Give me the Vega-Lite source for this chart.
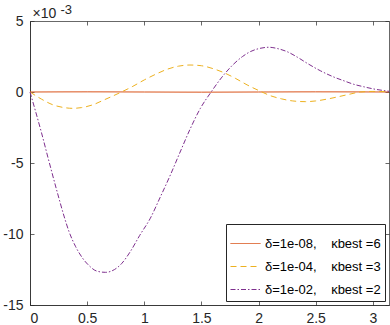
{
  "$schema": "https://vega.github.io/schema/vega-lite/v6.json",
  "width": 359,
  "height": 284,
  "autosize": {"type": "none"},
  "padding": {"left": 30, "top": 21, "right": 1, "bottom": 20},
  "background": "white",
  "config": {
    "view": {"stroke": null},
    "font": "Liberation Sans",
    "axis": {
      "grid": false,
      "domainColor": "#262626",
      "domainWidth": 0.7,
      "tickColor": "#262626",
      "tickWidth": 0.7,
      "tickSize": 4,
      "labelFontSize": 14,
      "labelColor": "#262626",
      "labelFont": "Liberation Sans",
      "titleFont": "Liberation Sans",
      "titleFontWeight": "normal",
      "titleColor": "#262626"
    }
  },
  "data": {
    "values": [
      {"x": 0, "y": 0, "s": "A"},
      {"x": 0.5, "y": 0.00001, "s": "A"},
      {"x": 1.0, "y": 0, "s": "A"},
      {"x": 1.5, "y": -0.00001, "s": "A"},
      {"x": 2.0, "y": 0, "s": "A"},
      {"x": 2.5, "y": 0.00001, "s": "A"},
      {"x": 3.1416, "y": 0, "s": "A"},

      {"x": 0, "y": 0, "s": "B"},
      {"x": 0.1, "y": -0.0005, "s": "B"},
      {"x": 0.2, "y": -0.0009, "s": "B"},
      {"x": 0.3, "y": -0.0011, "s": "B"},
      {"x": 0.37, "y": -0.00115, "s": "B"},
      {"x": 0.45, "y": -0.0011, "s": "B"},
      {"x": 0.55, "y": -0.0009, "s": "B"},
      {"x": 0.65, "y": -0.00055, "s": "B"},
      {"x": 0.8, "y": 0, "s": "B"},
      {"x": 0.9, "y": 0.0004, "s": "B"},
      {"x": 1.0, "y": 0.00085, "s": "B"},
      {"x": 1.1, "y": 0.00125, "s": "B"},
      {"x": 1.2, "y": 0.0016, "s": "B"},
      {"x": 1.3, "y": 0.00182, "s": "B"},
      {"x": 1.4, "y": 0.0019, "s": "B"},
      {"x": 1.5, "y": 0.00185, "s": "B"},
      {"x": 1.6, "y": 0.00165, "s": "B"},
      {"x": 1.7, "y": 0.00135, "s": "B"},
      {"x": 1.8, "y": 0.00095, "s": "B"},
      {"x": 1.9, "y": 0.0005, "s": "B"},
      {"x": 2.03, "y": 0, "s": "B"},
      {"x": 2.1, "y": -0.00025, "s": "B"},
      {"x": 2.2, "y": -0.00048, "s": "B"},
      {"x": 2.3, "y": -0.00063, "s": "B"},
      {"x": 2.41, "y": -0.00068, "s": "B"},
      {"x": 2.5, "y": -0.00063, "s": "B"},
      {"x": 2.6, "y": -0.0005, "s": "B"},
      {"x": 2.7, "y": -0.00033, "s": "B"},
      {"x": 2.8, "y": -0.00015, "s": "B"},
      {"x": 2.89, "y": 0, "s": "B"},
      {"x": 3.0, "y": 0.00004, "s": "B"},
      {"x": 3.1416, "y": 0.00002, "s": "B"},

      {"x": 0, "y": 0, "s": "C"},
      {"x": 0.05, "y": -0.0014, "s": "C"},
      {"x": 0.1, "y": -0.00285, "s": "C"},
      {"x": 0.16, "y": -0.0047, "s": "C"},
      {"x": 0.24, "y": -0.0071, "s": "C"},
      {"x": 0.3, "y": -0.0088, "s": "C"},
      {"x": 0.34, "y": -0.0098, "s": "C"},
      {"x": 0.4, "y": -0.0109, "s": "C"},
      {"x": 0.46, "y": -0.0117, "s": "C"},
      {"x": 0.52, "y": -0.01225, "s": "C"},
      {"x": 0.58, "y": -0.0126, "s": "C"},
      {"x": 0.66, "y": -0.0127, "s": "C"},
      {"x": 0.74, "y": -0.0125, "s": "C"},
      {"x": 0.8, "y": -0.0121, "s": "C"},
      {"x": 0.877, "y": -0.01125, "s": "C"},
      {"x": 0.96, "y": -0.0101, "s": "C"},
      {"x": 1.053, "y": -0.00889, "s": "C"},
      {"x": 1.14, "y": -0.0074, "s": "C"},
      {"x": 1.228, "y": -0.00585, "s": "C"},
      {"x": 1.31, "y": -0.0043, "s": "C"},
      {"x": 1.404, "y": -0.00256, "s": "C"},
      {"x": 1.491, "y": -0.00115, "s": "C"},
      {"x": 1.585, "y": 0, "s": "C"},
      {"x": 1.68, "y": 0.00105, "s": "C"},
      {"x": 1.78, "y": 0.00195, "s": "C"},
      {"x": 1.86, "y": 0.0025, "s": "C"},
      {"x": 1.93, "y": 0.00285, "s": "C"},
      {"x": 2.0, "y": 0.00305, "s": "C"},
      {"x": 2.09, "y": 0.00315, "s": "C"},
      {"x": 2.17, "y": 0.00305, "s": "C"},
      {"x": 2.25, "y": 0.00284, "s": "C"},
      {"x": 2.34, "y": 0.00245, "s": "C"},
      {"x": 2.43, "y": 0.002, "s": "C"},
      {"x": 2.54, "y": 0.0015, "s": "C"},
      {"x": 2.66, "y": 0.00105, "s": "C"},
      {"x": 2.75, "y": 0.00078, "s": "C"},
      {"x": 2.83, "y": 0.00055, "s": "C"},
      {"x": 2.92, "y": 0.00037, "s": "C"},
      {"x": 3.01, "y": 0.00021, "s": "C"},
      {"x": 3.08, "y": 0.00012, "s": "C"},
      {"x": 3.1416, "y": 0.00005, "s": "C"}
    ]
  },
  "layer": [
    {
      "mark": {"type": "line", "strokeWidth": 1, "interpolate": "monotone"},
      "encoding": {
        "x": {
          "field": "x", "type": "quantitative",
          "scale": {"domain": [0, 3.14159], "nice": false, "zero": false},
          "axis": {"orient": "bottom", "values": [0, 0.5, 1, 1.5, 2, 2.5, 3], "labelExpr": "datum.value", "title": null, "ticks": false, "labelPadding": 6}
        },
        "y": {
          "field": "y", "type": "quantitative",
          "scale": {"domain": [-0.015, 0.005], "nice": false},
          "axis": {
            "orient": "left", "values": [-0.015, -0.01, -0.005, 0, 0.005],
            "labelExpr": "round(datum.value*1000)", "ticks": false, "labelPadding": 7,
            "title": "×10", "titleAngle": 0, "titleX": 2, "titleY": -4,
            "titleAlign": "left", "titleBaseline": "alphabetic", "titleFontSize": 14
          }
        },
        "color": {
          "field": "s", "type": "nominal",
          "scale": {"domain": ["A", "B", "C"], "range": ["#D95319", "#EDB120", "#7E2F8E"]},
          "legend": {"title": null, "orient": "bottom-right", "offset": 4, "strokeColor": "#262626", "fillColor": "white", "padding": 4, "symbolType": "stroke", "symbolSize": 900, "symbolStrokeWidth": 1, "labelFontSize": 13, "labelColor": "#000000", "labelOffset": 4, "rowPadding": -3, "labelFont": "Liberation Sans",
            "labelExpr": "datum.label == 'A' ? 'δ=1e-08,\u00a0\u00a0\u00a0\u00a0κbest =6\u00a0' : datum.label == 'B' ? 'δ=1e-04,\u00a0\u00a0\u00a0\u00a0κbest =3\u00a0' : 'δ=1e-02,\u00a0\u00a0\u00a0\u00a0κbest =2\u00a0'"}
        },
        "strokeDash": {
          "field": "s", "type": "nominal",
          "scale": {"domain": ["A", "B", "C"], "range": [[1, 0], [6, 4], [5, 2, 1.5, 2]]},
          "legend": {"title": null, "orient": "bottom-right", "offset": 4, "strokeColor": "#262626", "fillColor": "white", "padding": 4, "symbolType": "stroke", "symbolSize": 900, "symbolStrokeWidth": 1, "labelFontSize": 13, "labelColor": "#000000", "labelOffset": 4, "rowPadding": -3, "labelFont": "Liberation Sans",
            "labelExpr": "datum.label == 'A' ? 'δ=1e-08,\u00a0\u00a0\u00a0\u00a0κbest =6\u00a0' : datum.label == 'B' ? 'δ=1e-04,\u00a0\u00a0\u00a0\u00a0κbest =3\u00a0' : 'δ=1e-02,\u00a0\u00a0\u00a0\u00a0κbest =2\u00a0'"}
        }
      }
    },
    {
      "mark": {"type": "line", "opacity": 0},
      "encoding": {
        "x": {
          "field": "x", "type": "quantitative",
          "axis": {"orient": "top", "offset": -284, "values": [0, 0.5, 1, 1.5, 2, 2.5, 3], "labels": false, "title": null}
        },
        "y": {
          "field": "y", "type": "quantitative",
          "axis": {
            "orient": "right", "offset": -359, "values": [-0.015, -0.01, -0.005, 0, 0.005], "labels": false,
            "title": "-3", "titleAngle": 0, "titleX": 30, "titleY": -8,
            "titleAlign": "left", "titleBaseline": "alphabetic", "titleFontSize": 13
          }
        },
        "detail": {"field": "s", "type": "nominal"}
      }
    },
    {
      "mark": {"type": "line", "opacity": 0},
      "encoding": {
        "x": {
          "field": "x", "type": "quantitative",
          "axis": {"orient": "bottom", "offset": -284, "values": [0, 0.5, 1, 1.5, 2, 2.5, 3], "labels": false, "title": null}
        },
        "y": {
          "field": "y", "type": "quantitative",
          "axis": {"orient": "left", "offset": -359, "values": [-0.015, -0.01, -0.005, 0, 0.005], "labels": false, "title": null}
        },
        "detail": {"field": "s", "type": "nominal"}
      }
    }
  ],
  "resolve": {"axis": {"x": "independent", "y": "independent"}}
}
